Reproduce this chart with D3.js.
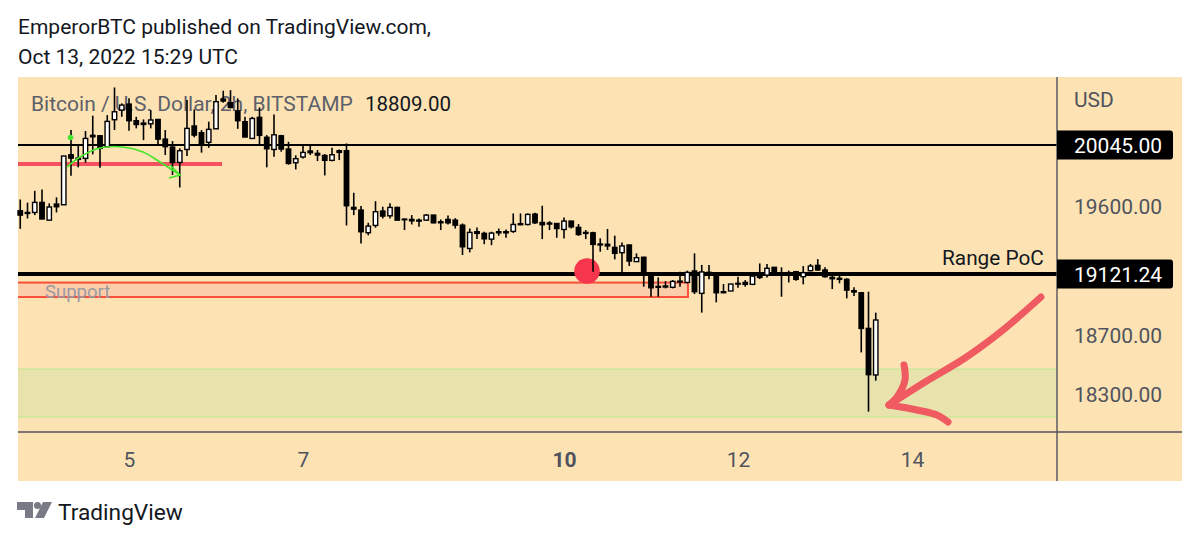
<!DOCTYPE html>
<html>
<head>
<meta charset="utf-8">
<script src="https://cdn.jsdelivr.net/npm/d3@7"></script>
<style>
    html, body { margin: 0; padding: 0; background: #fff; }
    svg { display: block; font-family: Roboto, sans-serif; }
    .axis text { font-family: Roboto, sans-serif; font-size: 21px; fill: #50535e; }
    .axis path, .axis line { display: none; }
</style>
</head>
<body>
<svg id="chart" width="1200" height="542"></svg>
<script>
// 2h bars, the first one opens on Oct 3 2022 18:00 UTC
const firstBar = new Date(Date.UTC(2022, 9, 3, 18));

const opens = [
    19574, 19562, 19562, 19634, 19507, 19622, 19617, 19975, 19951, 19949,
    20114, 20111, 20033, 20226, 20295, 20338, 20219, 20202, 20197, 20228,
    20087, 20030, 19920, 20013, 20181, 20133, 20064, 20161, 20374, 20348,
    20290, 20212, 20092, 20243, 20100, 20013, 20111, 20016, 19918, 19959,
    20002, 19985, 19970, 19935, 20004, 20004, 19598, 19579, 19417, 19469,
    19572, 19538, 19598, 19514, 19512, 19507, 19507, 19543, 19495, 19512,
    19507, 19471, 19304, 19424, 19412, 19371, 19424, 19424, 19426, 19481,
    19476, 19550, 19490, 19486, 19483, 19440, 19500, 19455, 19419, 19416,
    19336, 19334, 19312, 19274, 19329, 19210, 19241, 19107, 19037, 19040,
    19031, 19073, 19064, 19143, 18990, 19133, 19110, 19001, 19006, 19058,
    19064, 19051, 19103, 19114, 19169, 19123, 19131, 19138, 19103, 19145,
    19183, 19150, 19098, 19092, 19085, 19008, 18994, 18752, 18436
];
const highs = [
    19655, 19632, 19717, 19727, 19627, 19670, 19966, 20152, 20049, 20145,
    20255, 20114, 20259, 20457, 20343, 20379, 20247, 20228, 20295, 20228,
    20152, 20073, 20021, 20367, 20300, 20152, 20212, 20403, 20434, 20438,
    20379, 20247, 20247, 20314, 20116, 20264, 20118, 20068, 19971, 20040,
    20049, 20009, 19980, 20025, 20013, 20056, 19703, 19608, 19488, 19643,
    19603, 19627, 19603, 19519, 19543, 19519, 19550, 19545, 19512, 19541,
    19521, 19483, 19447, 19455, 19424, 19424, 19447, 19440, 19555, 19555,
    19555, 19560, 19610, 19500, 19485, 19526, 19502, 19479, 19436, 19424,
    19377, 19444, 19396, 19346, 19331, 19269, 19245, 19114, 19098, 19073,
    19080, 19138, 19145, 19269, 19186, 19186, 19114, 19053, 19053, 19103,
    19080, 19126, 19197, 19193, 19172, 19169, 19145, 19142, 19178, 19193,
    19228, 19169, 19110, 19110, 19092, 19031, 18997, 19001, 18859
];
const lows = [
    19445, 19519, 19543, 19515, 19507, 19562, 19617, 19825, 19885, 19918,
    19978, 19882, 20033, 20152, 20247, 20147, 20164, 20080, 20164, 20040,
    19973, 19830, 19741, 19966, 20100, 19990, 20025, 20161, 20348, 20307,
    20161, 20102, 20092, 20049, 19885, 19961, 19997, 19904, 19870, 19949,
    19973, 19930, 19827, 19928, 19937, 19469, 19543, 19340, 19398, 19453,
    19519, 19519, 19507, 19436, 19476, 19459, 19502, 19483, 19436, 19476,
    19447, 19257, 19276, 19371, 19335, 19328, 19395, 19381, 19416, 19471,
    19469, 19479, 19371, 19436, 19381, 19376, 19447, 19395, 19371, 19137,
    19281, 19293, 19226, 19131, 19179, 19208, 19035, 18967, 18967, 19024,
    19024, 19035, 19058, 18985, 18859, 19085, 18929, 18992, 19006, 19028,
    19035, 19046, 19087, 19098, 19112, 18967, 19064, 19076, 19051, 19140,
    19145, 19098, 19019, 19058, 18956, 18972, 18589, 18187, 18397
];
const closes = [
    19543, 19555, 19634, 19515, 19601, 19603, 19966, 19951, 19942, 20092,
    20104, 20021, 20214, 20283, 20331, 20219, 20192, 20192, 20224, 20087,
    20033, 19920, 20004, 20164, 20116, 20056, 20157, 20355, 20360, 20314,
    20219, 20102, 20235, 20114, 20018, 20118, 20016, 19913, 19947, 19992,
    19990, 19973, 19935, 19975, 19992, 19610, 19586, 19424, 19464, 19567,
    19536, 19598, 19507, 19510, 19502, 19500, 19543, 19488, 19488, 19488,
    19471, 19316, 19419, 19412, 19373, 19414, 19416, 19416, 19476, 19474,
    19548, 19488, 19474, 19479, 19447, 19500, 19459, 19404, 19412, 19333,
    19329, 19322, 19269, 19322, 19214, 19238, 19114, 19028, 19031, 19033,
    19071, 19067, 19133, 19001, 19136, 19126, 18994, 18994, 19053, 19053,
    19051, 19107, 19098, 19162, 19114, 19119, 19116, 19085, 19131, 19178,
    19150, 19103, 19089, 19085, 19012, 18999, 18752, 18438, 18809
];

const priceTicks = [19600, 18700, 18300];
const pinnedPrices = [20045, 19121.24];
const dayTicks = [5, 7, 10, 12, 14];

const bars = opens.map((o, i) => ({
    time: d3.utcHour.offset(firstBar, i * 2),
    open: o, high: highs[i], low: lows[i], close: closes[i]
}));

// Layout of the TradingView snapshot
const pane = { left: 18, right: 1057, top: 77, bottom: 432, outerRight: 1182, outerBottom: 481 };
const colors = {
    bg: '#fde3b3', axis: '#50535e', candle: '#000', legend: '#5d606b',
    zone: '#e8e3ad', zoneEdge: '#bde98f', support: '#fbcda8', supportEdge: '#f9503c',
    redLine: '#f7525f', dot: '#f5364c', pen: '#ef5b60', green: '#45e52c'
};

const oct = d => new Date(Date.UTC(2022, 9, d));

const x = d3.scaleUtc().domain([oct(5), oct(14)]).range([129, 912]);
// the snapshot's price axis is not quite even, so pin it at the levels shown
const y = d3.scaleLinear().domain([18300, 19121.24, 20045]).range([395, 274, 145]);

const svg = d3.select('#chart');

// Boxes run off the left of the pane, their left edges are not seen
svg.append('clipPath').attr('id', 'pane-clip').append('rect')
    .attr('x', pane.left).attr('y', pane.top)
    .attr('width', pane.right - pane.left).attr('height', pane.bottom - pane.top);

// Top caption
svg.append('text').attr('x', 18).attr('y', 34).attr('font-size', 21).attr('fill', '#131722')
    .text('EmperorBTC published on TradingView.com,');
svg.append('text').attr('x', 18).attr('y', 64).attr('font-size', 21).attr('fill', '#131722')
    .text('Oct 13, 2022 15:29 UTC');

// Background
svg.append('rect')
    .attr('x', pane.left).attr('y', pane.top)
    .attr('width', pane.outerRight - pane.left).attr('height', pane.outerBottom - pane.top)
    .attr('fill', colors.bg);

const boxes = svg.append('g').attr('clip-path', 'url(#pane-clip)');

// Green target zone
boxes.append('rect')
    .attr('x', pane.left - 5).attr('width', pane.right - pane.left + 10)
    .attr('y', y(18476)).attr('height', y(18151) - y(18476))
    .attr('fill', colors.zone).attr('stroke', colors.zoneEdge).attr('stroke-width', 1);

// Support box
boxes.append('rect')
    .attr('x', pane.left - 5).attr('width', x(new Date(Date.UTC(2022, 9, 11, 10, 12))) - pane.left + 5)
    .attr('y', y(19063)).attr('height', y(18965) - y(19063))
    .attr('fill', colors.support).attr('stroke', colors.supportEdge).attr('stroke-width', 2);

svg.append('text').attr('x', 45).attr('y', 298).attr('font-size', 18.5).attr('fill', '#9a9aa5')
    .text('Support');

// Legend sits under the candles
const legend = svg.append('text').attr('x', 31).attr('y', 111).attr('font-size', 21);
legend.append('tspan').attr('fill', colors.legend).text('Bitcoin / U.S. Dollar, 2h, BITSTAMP');
legend.append('tspan').attr('x', 365).attr('fill', '#131722').attr('font-size', 20.5).text('18809.00');

// Red level on the left
svg.append('line')
    .attr('x1', pane.left).attr('x2', x(new Date(Date.UTC(2022, 9, 6, 1, 40))))
    .attr('y1', y(19909)).attr('y2', y(19909))
    .attr('stroke', colors.redLine).attr('stroke-width', 3.8);

// Horizontal levels
svg.append('line')
    .attr('x1', pane.left).attr('x2', pane.right)
    .attr('y1', y(20045)).attr('y2', y(20045))
    .attr('stroke', '#000').attr('stroke-width', 1.8);
svg.append('line')
    .attr('x1', pane.left).attr('x2', pane.right)
    .attr('y1', y(19121.24)).attr('y2', y(19121.24))
    .attr('stroke', '#000').attr('stroke-width', 3.8);

// Red point on the PoC, below the candles
svg.append('circle').attr('cx', 587).attr('cy', 271).attr('r', 12.8)
    .attr('fill', colors.dot);

// Candles
const candles = svg.append('g').attr('class', 'candles')
    .selectAll('g').data(bars).enter().append('g');

candles.append('line')
    .attr('x1', d => x(d.time)).attr('x2', d => x(d.time))
    .attr('y1', d => y(d.high)).attr('y2', d => y(d.low))
    .attr('stroke', colors.candle).attr('stroke-width', 1.6);

candles.append('rect')
    .attr('x', d => x(d.time) - 2.2).attr('width', 4.4)
    .attr('y', d => y(Math.max(d.open, d.close)))
    .attr('height', d => Math.max(0.6, Math.abs(y(d.open) - y(d.close))))
    .attr('fill', d => d.close >= d.open ? '#fff' : colors.candle)
    .attr('stroke', colors.candle).attr('stroke-width', 1.4);

// Hand drawn green curve with its arrow
const greenCurve = d3.line().curve(d3.curveCatmullRom);
svg.append('path')
    .attr('d', greenCurve([[67, 167], [80, 157], [100, 148], [123, 147], [143, 152], [160, 162], [180, 175]]))
    .attr('fill', 'none').attr('stroke', colors.green).attr('stroke-width', 1.7);
svg.append('path')
    .attr('d', 'M169,178 L180,175 L170,165')
    .attr('fill', 'none').attr('stroke', colors.green).attr('stroke-width', 1.7);
svg.append('circle').attr('cx', 70.5).attr('cy', 137.5).attr('r', 2.8)
    .attr('fill', colors.green);

svg.append('text').attr('x', 942).attr('y', 265).attr('font-size', 20.8).attr('fill', '#131722')
    .text('Range PoC');

// Pen arrow
const penCurve = d3.line().curve(d3.curveCatmullRom);
const pen = svg.append('g').attr('fill', 'none').attr('stroke', colors.pen)
    .attr('stroke-width', 7).attr('stroke-linecap', 'round').attr('stroke-linejoin', 'round');
pen.append('path').attr('d', penCurve([[1041, 297], [1003, 330], [965, 358], [925, 382], [889, 405]]));
pen.append('path').attr('d', penCurve([[904, 365], [905, 380], [897, 397], [889, 405]]));
pen.append('path').attr('d', penCurve([[889, 405], [917, 410], [937, 415], [948, 422]]));

// Axis frame
svg.append('line').attr('x1', pane.right).attr('x2', pane.right)
    .attr('y1', pane.top).attr('y2', pane.outerBottom)
    .attr('stroke', colors.axis).attr('stroke-width', 1.4);
svg.append('line').attr('x1', pane.left).attr('x2', pane.outerRight)
    .attr('y1', pane.bottom).attr('y2', pane.bottom)
    .attr('stroke', colors.axis).attr('stroke-width', 1.4);

// Price axis
const yAxis = d3.axisRight(y).tickValues(priceTicks).tickSize(0).tickPadding(17)
    .tickFormat(d3.format('.2f'));
svg.append('g').attr('class', 'axis')
    .attr('transform', `translate(${pane.right},0)`)
    .call(yAxis);

svg.append('text').attr('x', pane.right + 17).attr('y', 107)
    .attr('font-size', 21).attr('fill', colors.axis).text('USD');

// Pinned price labels
const pins = svg.selectAll('.pin').data(pinnedPrices).enter().append('g')
    .attr('class', 'pin')
    .attr('transform', d => `translate(${pane.right},${y(d)})`);
pins.append('path')
    .attr('d', 'M0,-14.5 H113 a3,3 0 0 1 3,3 V11.5 a3,3 0 0 1 -3,3 H0 Z')
    .attr('fill', '#000');
pins.append('text')
    .attr('x', 17).attr('dy', '0.36em')
    .attr('font-size', 21).attr('fill', '#fff')
    .text(d3.format('.2f'));

// Time axis
const xAxis = d3.axisBottom(x).tickValues(dayTicks.map(oct)).tickSize(0).tickPadding(20)
    .tickFormat(d3.utcFormat('%-d'));
const xAxisG = svg.append('g').attr('class', 'axis')
    .attr('transform', `translate(0,${pane.bottom})`)
    .call(xAxis);
xAxisG.selectAll('text')
    .attr('font-weight', (d, i) => dayTicks[i] === 10 ? 700 : 400);

// TradingView logo and name
const logo = svg.append('g').attr('fill', '#787b86');
logo.append('path').attr('d', 'M17,502 H33 V518 H25 V510 H17 Z');
logo.append('circle').attr('cx', 37.5).attr('cy', 505.5).attr('r', 3.6);
logo.append('path').attr('d', 'M43,502 H52 L44,518 H35 Z');
svg.append('text').attr('x', 58).attr('y', 520).attr('font-size', 22.7).attr('fill', '#131722')
    .text('TradingView');
</script>
</body>
</html>
